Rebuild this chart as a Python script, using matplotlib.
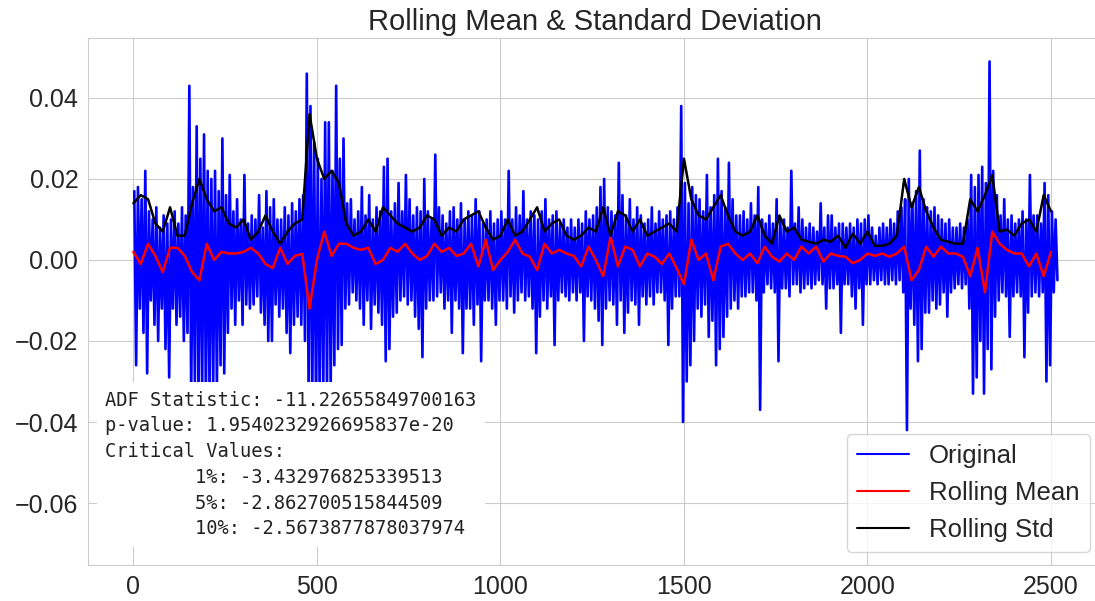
import numpy as np
import matplotlib
matplotlib.use("Agg")
import matplotlib.pyplot as plt
import seaborn as sns

# ---- data ----
# Original series: per 10-step bin, the local high and low spikes
orig_hi = [
    0.017, 0.018, 0.015, 0.022, 0.012, 0.010, 0.013, 0.008, 0.011, 0.009,
    0.010, 0.012, 0.009, 0.013, 0.011, 0.043, 0.018, 0.033, 0.025, 0.031,
    0.022, 0.020, 0.022, 0.017, 0.030, 0.016, 0.021, 0.012, 0.015, 0.010,
    0.021, 0.009, 0.011, 0.010, 0.016, 0.008, 0.017, 0.013, 0.015, 0.010,
    0.010, 0.013, 0.011, 0.014, 0.012, 0.015, 0.016, 0.046, 0.038, 0.029,
    0.025, 0.020, 0.034, 0.034, 0.022, 0.043, 0.025, 0.030, 0.014, 0.015,
    0.010, 0.012, 0.018, 0.011, 0.016, 0.010, 0.013, 0.012, 0.023, 0.025,
    0.012, 0.014, 0.019, 0.012, 0.021, 0.015, 0.011, 0.013, 0.012, 0.020,
    0.012, 0.010, 0.026, 0.013, 0.011, 0.009, 0.012, 0.013, 0.010, 0.014,
    0.010, 0.012, 0.011, 0.015, 0.012, 0.009, 0.010, 0.012, 0.009, 0.010,
    0.012, 0.010, 0.022, 0.010, 0.013, 0.011, 0.017, 0.010, 0.012, 0.011,
    0.010, 0.012, 0.015, 0.010, 0.011, 0.012, 0.009, 0.010, 0.008, 0.010,
    0.008, 0.010, 0.009, 0.012, 0.010, 0.011, 0.013, 0.018, 0.020, 0.013,
    0.012, 0.011, 0.024, 0.016, 0.011, 0.015, 0.010, 0.013, 0.011, 0.009,
    0.010, 0.013, 0.009, 0.012, 0.010, 0.011, 0.012, 0.010, 0.013, 0.038,
    0.019, 0.014, 0.018, 0.016, 0.015, 0.012, 0.021, 0.013, 0.016, 0.025,
    0.017, 0.013, 0.024, 0.015, 0.011, 0.011, 0.012, 0.010, 0.014, 0.011,
    0.018, 0.010, 0.009, 0.011, 0.009, 0.015, 0.010, 0.010, 0.008, 0.022,
    0.009, 0.013, 0.010, 0.008, 0.009, 0.008, 0.007, 0.014, 0.008, 0.011,
    0.011, 0.008, 0.009, 0.009, 0.008, 0.009, 0.008, 0.010, 0.009, 0.010,
    0.011, 0.008, 0.006, 0.008, 0.009, 0.008, 0.010, 0.009, 0.012, 0.013,
    0.015, 0.020, 0.014, 0.017, 0.027, 0.015, 0.013, 0.012, 0.013, 0.011,
    0.010, 0.009, 0.010, 0.008, 0.008, 0.009, 0.008, 0.010, 0.021, 0.018,
    0.021, 0.023, 0.019, 0.049, 0.022, 0.016, 0.011, 0.015, 0.010, 0.011,
    0.009, 0.010, 0.012, 0.010, 0.021, 0.011, 0.011, 0.009, 0.019, 0.016,
    0.012, 0.010,
]
orig_lo = [
    -0.026, -0.012, -0.018, -0.028, -0.010, -0.016, -0.020, -0.012, -0.022, -0.029,
    -0.012, -0.016, -0.014, -0.020, -0.018, -0.034, -0.030, -0.036, -0.032, -0.035,
    -0.033, -0.031, -0.032, -0.026, -0.028, -0.018, -0.012, -0.016, -0.010, -0.016,
    -0.011, -0.012, -0.011, -0.009, -0.013, -0.016, -0.020, -0.020, -0.011, -0.014,
    -0.012, -0.018, -0.023, -0.016, -0.014, -0.016, -0.020, -0.035, -0.033, -0.036,
    -0.034, -0.031, -0.033, -0.032, -0.026, -0.022, -0.021, -0.012, -0.011, -0.008,
    -0.010, -0.012, -0.016, -0.010, -0.017, -0.011, -0.013, -0.016, -0.025, -0.022,
    -0.014, -0.013, -0.010, -0.009, -0.011, -0.010, -0.014, -0.017, -0.024, -0.012,
    -0.010, -0.010, -0.009, -0.008, -0.012, -0.010, -0.018, -0.010, -0.012, -0.023,
    -0.012, -0.012, -0.016, -0.011, -0.025, -0.010, -0.010, -0.012, -0.016, -0.010,
    -0.010, -0.012, -0.009, -0.013, -0.010, -0.008, -0.010, -0.009, -0.012, -0.023,
    -0.014, -0.010, -0.012, -0.009, -0.021, -0.010, -0.008, -0.009, -0.010, -0.008,
    -0.010, -0.008, -0.020, -0.009, -0.010, -0.012, -0.015, -0.021, -0.012, -0.010,
    -0.011, -0.016, -0.010, -0.018, -0.013, -0.010, -0.011, -0.016, -0.009, -0.011,
    -0.009, -0.011, -0.008, -0.008, -0.010, -0.021, -0.012, -0.009, -0.009, -0.040,
    -0.030, -0.026, -0.020, -0.012, -0.014, -0.011, -0.019, -0.015, -0.026, -0.022,
    -0.019, -0.014, -0.012, -0.010, -0.012, -0.009, -0.009, -0.008, -0.008, -0.010,
    -0.037, -0.008, -0.006, -0.007, -0.008, -0.025, -0.007, -0.007, -0.009, -0.006,
    -0.006, -0.008, -0.007, -0.006, -0.007, -0.006, -0.005, -0.006, -0.012, -0.007,
    -0.007, -0.006, -0.018, -0.006, -0.006, -0.009, -0.012, -0.007, -0.016, -0.006,
    -0.006, -0.005, -0.006, -0.005, -0.006, -0.006, -0.005, -0.006, -0.005, -0.008,
    -0.042, -0.012, -0.016, -0.025, -0.022, -0.013, -0.013, -0.010, -0.012, -0.011,
    -0.008, -0.014, -0.008, -0.007, -0.006, -0.007, -0.006, -0.012, -0.033, -0.029,
    -0.020, -0.033, -0.022, -0.027, -0.014, -0.010, -0.008, -0.009, -0.019, -0.009,
    -0.008, -0.009, -0.024, -0.013, -0.009, -0.008, -0.009, -0.008, -0.030, -0.026,
    -0.008, -0.005,
]
# Rolling statistics, one reading every 20 steps
roll_mean = [
    0.002, -0.001, 0.004, 0.001, -0.003, 0.003, 0.003, 0.001, -0.003, -0.005,
    0.004, 0.000, 0.002, 0.0016, 0.0016, 0.002, 0.003, 0.0016, -0.001, -0.002,
    0.003, -0.001, 0.001, 0.0015, -0.012, 0.000, 0.007, 0.001, 0.004, 0.004,
    0.003, 0.0025, 0.003, -0.001, 0.000, 0.003, 0.002, 0.004, 0.0016, 0.000,
    0.001, 0.004, 0.002, 0.003, 0.001, 0.0016, 0.004, -0.0016, 0.005, -0.0025,
    0.000, 0.002, 0.005, 0.0016, 0.0008, -0.0025, 0.004, 0.0016, 0.0025, 0.0016,
    0.001, -0.0016, 0.0033, 0.000, -0.004, 0.0058, -0.0016, 0.0033, 0.0025, -0.0016,
    0.0016, 0.0008, -0.001, 0.0016, -0.002, -0.006, 0.005, 0.000, 0.0016, -0.005,
    0.0033, 0.004, 0.0016, 0.000, 0.0016, -0.0008, 0.0033, 0.0008, -0.0004, 0.0016,
    0.000, 0.0033, 0.0016, 0.0033, -0.0004, 0.0016, 0.001, 0.0008, -0.0008, 0.000,
    0.0016, 0.001, 0.0016, 0.0008, 0.0016, 0.0033, -0.005, -0.0025, 0.0033, 0.0008,
    0.0033, 0.0016, 0.0016, 0.0008, -0.004, 0.003, -0.008, 0.007, 0.004, 0.0025,
    0.0016, 0.0016, -0.0016, 0.0016, -0.004, 0.002,
]
roll_std = [
    0.014, 0.016, 0.015, 0.009, 0.007, 0.013, 0.006, 0.006, 0.014, 0.020,
    0.015, 0.012, 0.013, 0.009, 0.008, 0.010, 0.005, 0.007, 0.011, 0.007,
    0.004, 0.007, 0.009, 0.010, 0.036, 0.025, 0.020, 0.022, 0.019, 0.009,
    0.006, 0.007, 0.010, 0.007, 0.013, 0.011, 0.009, 0.008, 0.007, 0.008,
    0.011, 0.010, 0.006, 0.008, 0.007, 0.010, 0.011, 0.012, 0.008, 0.005,
    0.006, 0.010, 0.006, 0.007, 0.010, 0.013, 0.007, 0.009, 0.010, 0.006,
    0.005, 0.006, 0.008, 0.007, 0.013, 0.006, 0.012, 0.011, 0.007, 0.010,
    0.006, 0.007, 0.008, 0.009, 0.007, 0.025, 0.015, 0.011, 0.010, 0.013,
    0.016, 0.011, 0.007, 0.006, 0.007, 0.011, 0.006, 0.004, 0.011, 0.007,
    0.008, 0.005, 0.0045, 0.004, 0.005, 0.0045, 0.006, 0.003, 0.0065, 0.004,
    0.007, 0.0035, 0.0035, 0.004, 0.006, 0.020, 0.013, 0.018, 0.012, 0.008,
    0.005, 0.0045, 0.004, 0.004, 0.015, 0.012, 0.016, 0.021, 0.007, 0.0075,
    0.006, 0.009, 0.010, 0.007, 0.016, 0.012,
]
legend_labels = ["Original", "Rolling Mean", "Rolling Std"]
title_text = "Rolling Mean & Standard Deviation"
adf_lines = [
    "ADF Statistic: -11.22655849700163",
    "p-value: 1.9540232926695837e-20",
    "Critical Values:",
    "        1%: -3.432976825339513",
    "        5%: -2.862700515844509",
    "        10%: -2.5673877878037974",
]
bin_step = 10
roll_step = 20

# ---- build series ----
hi = np.array(orig_hi)
lo = np.array(orig_lo)
orig_vals = np.column_stack([hi, lo]).ravel()
orig_x = np.arange(orig_vals.size) * (bin_step / 2) + bin_step / 4
mean_x = np.arange(len(roll_mean)) * roll_step
std_x = np.arange(len(roll_std)) * roll_step

# ---- style ----
sns.set_style("whitegrid")
plt.rcParams["font.family"] = ["Liberation Sans", "DejaVu Sans"]
plt.rcParams["text.color"] = ".15"
plt.rcParams["xtick.color"] = ".15"
plt.rcParams["ytick.color"] = ".15"

fig = plt.figure(figsize=(10.95, 6.01), dpi=100)
ax = fig.add_axes([0.0804, 0.0599, 0.9267, 0.8769])

ax.plot(orig_x, orig_vals, color="blue", lw=1.9, label=legend_labels[0])
ax.plot(mean_x, roll_mean, color="red", lw=1.8, label=legend_labels[1])
ax.plot(std_x, roll_std, color="black", lw=1.8, label=legend_labels[2])

ax.set_xlim(-123.5, 2641)
ax.set_ylim(-0.0753, 0.0548)
ax.set_xticks([0, 500, 1000, 1500, 2000, 2500])
ax.set_yticks([-0.06, -0.04, -0.02, 0.00, 0.02, 0.04])
ax.set_yticklabels(["\u22120.06", "\u22120.04", "\u22120.02", "0.00", "0.02", "0.04"])
ax.tick_params(labelsize=18)
ax.set_title(title_text, fontsize=21, color=".15")

leg = ax.legend(loc="lower right", fontsize=18.5)
for h in leg.get_lines():
    h.set_linewidth(1.5)

ax.text(0.017, 0.331, "\n".join(adf_lines), transform=ax.transAxes,
        family="DejaVu Sans Mono", fontsize=13.5, va="top", ha="left",
        color="#222222", zorder=5, linespacing=1.45,
        bbox=dict(facecolor="white", edgecolor="none", pad=6))

fig.savefig("out.png", dpi=100)
